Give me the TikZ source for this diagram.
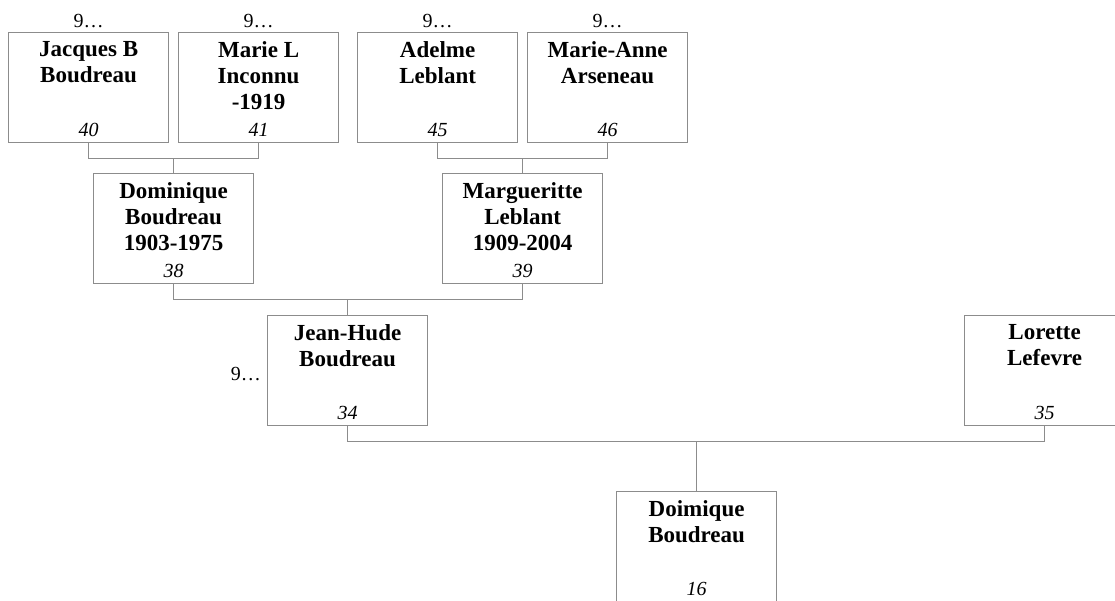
\documentclass[tikz,border=0pt]{standalone}
\usepackage{fontspec}
\setmainfont{Liberation Serif}
\definecolor{linegray}{HTML}{8C8C8C}

\tikzset{
  person/.style={draw=linegray, line width=1.2pt, minimum width=160pt, minimum height=110pt, inner sep=0pt, anchor=north west},
  pname/.style={anchor=north, align=center, inner sep=0pt, font=\fontsize{23}{26}\selectfont\bfseries},
  pnum/.style={anchor=base, inner sep=0pt, font=\fontsize{20}{24}\selectfont\itshape},
  more/.style={inner sep=0pt, font=\fontsize{20}{24}\selectfont},
  link/.style={draw=linegray, line width=1.2pt}
}

\begin{document}
\begin{tikzpicture}[x=1pt,y=-1pt]
            \useasboundingbox (0,0) rectangle (1115,601);
            \node[person] (p40) at (8,32) {};
            \node[person] (p41) at (178,32) {};
            \node[person] (p45) at (357,32) {};
            \node[person] (p46) at (527,32) {};
            \node[person] (p38) at (93,173) {};
            \node[person] (p39) at (442,173) {};
            \node[person] (p34) at (267,315) {};
            \node[person] (p35) at (964,315) {};
            \node[person] (p16) at (616,491) {};
            \node[pname] (n40) at ([yshift=-9pt]p40.north) {Jacques B\\Boudreau};
            \node[pname] (n41) at ([yshift=-9pt]p41.north) {Marie L\\Inconnu\\-1919};
            \node[pname] (n45) at ([yshift=-9pt]p45.north) {Adelme\\Leblant};
            \node[pname] (n46) at ([yshift=-9pt]p46.north) {Marie-Anne\\Arseneau};
            \node[pname] (n38) at ([yshift=-9pt]p38.north) {Dominique\\Boudreau\\1903-1975};
            \node[pname] (n39) at ([yshift=-9pt]p39.north) {Margueritte\\Leblant\\1909-2004};
            \node[pname] (n34) at ([yshift=-9pt]p34.north) {Jean-Hude\\Boudreau};
            \node[pname] (n35) at ([yshift=-9pt]p35.north) {Lorette\\Lefevre};
            \node[pname] (n16) at ([yshift=-9pt]p16.north) {Doimique\\Boudreau};
            \foreach \p in {40,41,45,46,38,39,34,35,16}
              \node[pnum] (m\p) at ([yshift=7pt]p\p.south) {\p};
            \foreach \p in {40,41,45,46}
              \node[more, anchor=base] (u\p) at ([yshift=4pt]p\p.north) {9…};
            \node[more, anchor=base east] (u34) at ([xshift=-6pt,yshift=-10pt]p34.west) {9…};
            \draw[link] (p40.south) -- ++(0,15) -| (p38.north);
            \draw[link] (p41.south) -- ++(0,15) -| (p38.north);
            \draw[link] (p45.south) -- ++(0,15) -| (p39.north);
            \draw[link] (p46.south) -- ++(0,15) -| (p39.north);
            \draw[link] (p38.south) -- ++(0,15) -| (p34.north);
            \draw[link] (p39.south) -- ++(0,15) -| (p34.north);
            \draw[link] (p34.south) -- ++(0,15) -| (p16.north);
            \draw[link] (p35.south) -- ++(0,15) -| (p16.north);
        \end{tikzpicture}
\end{document}
